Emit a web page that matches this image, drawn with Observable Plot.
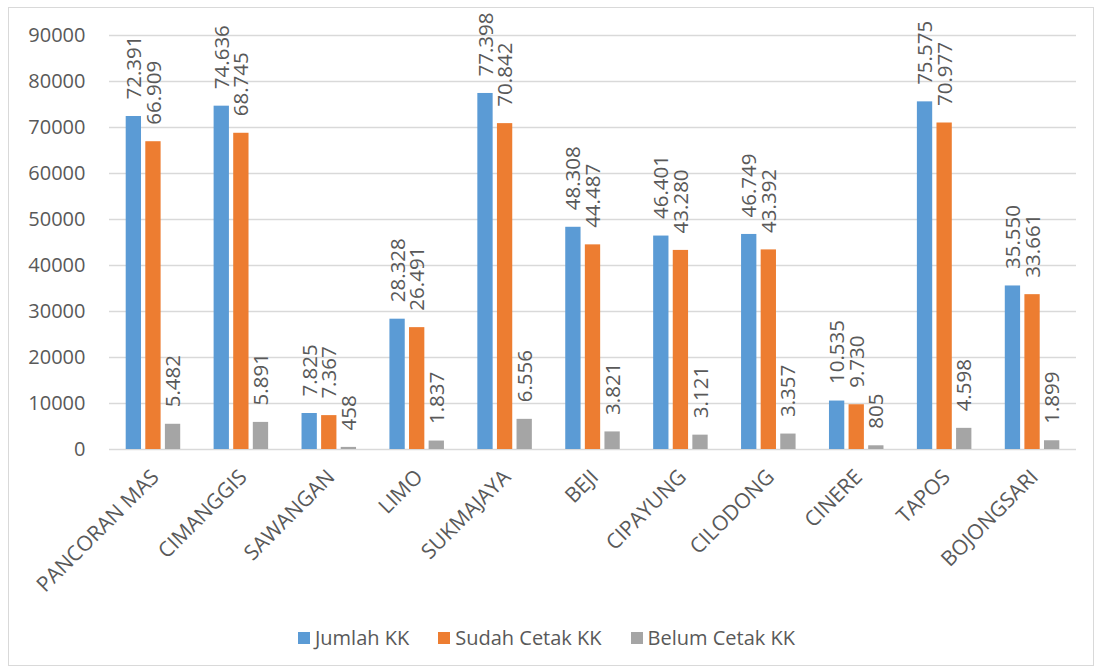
<!DOCTYPE html>
<html>
<head>
<meta charset="utf-8">
<script src="https://cdn.jsdelivr.net/npm/d3@7"></script>
<script src="https://cdn.jsdelivr.net/npm/@observablehq/plot@0.6"></script>
<style>
  html, body { margin: 0; padding: 0; background: #fff; }
  #wrap { position: relative; width: 1100px; height: 670px; font-family: "Open Sans", sans-serif; }
  #border { position: absolute; left: 8px; top: 7px; width: 1084px; height: 657px; border: 1px solid #d9d9d9; pointer-events: none; }
  #chart { position: absolute; left: 0; top: 0; }
  #legend { position: absolute; left: 4px; top: 624px; width: 1085px; display: flex; justify-content: center; gap: 29px; font-size: 20px; color: #595959; }
  .item { display: flex; align-items: center; gap: 5px; }
  .sw { width: 12px; height: 12px; display: inline-block; }
</style>
</head>
<body>
<div id="wrap">
  <div id="chart"></div>
  <div id="legend"></div>
  <div id="border"></div>
</div>
<script>
const districts = ["PANCORAN MAS","CIMANGGIS","SAWANGAN","LIMO","SUKMAJAYA","BEJI","CIPAYUNG","CILODONG","CINERE","TAPOS","BOJONGSARI"];
const jumlahKK = [72391, 74636, 7825, 28328, 77398, 48308, 46401, 46749, 10535, 75575, 35550];
const sudahCetak = [66909, 68745, 7367, 26491, 70842, 44487, 43280, 43392, 9730, 70977, 33661];
const belumCetak = [5482, 5891, 458, 1837, 6556, 3821, 3121, 3357, 805, 4598, 1899];
const seriesNames = ["Jumlah KK", "Sudah Cetak KK", "Belum Cetak KK"];
const seriesColors = ["#5B9BD5", "#ED7D31", "#A5A5A5"];
const yTicks = [0, 10000, 20000, 30000, 40000, 50000, 60000, 70000, 80000, 90000];

const data = districts.map((d, i) => ({district: d, v0: jumlahKK[i], v1: sudahCetak[i], v2: belumCetak[i]}));
const fmt = v => d3.format(",")(v).replace(/,/g, ".");
const offsets = [-19.6, 0, 19.6];
const keys = ["v0", "v1", "v2"];

const marks = [Plot.gridY(yTicks, {stroke: "#d9d9d9", strokeOpacity: 1, strokeWidth: 1.5})];
keys.forEach((k, i) => {
  marks.push(Plot.barY(data, {x: "district", y: k, fill: seriesColors[i], dx: offsets[i], insetLeft: 36.3, insetRight: 36.3}));
});
keys.forEach((k, i) => {
  marks.push(Plot.text(data, {x: "district", y: k, text: d => fmt(d[k]), rotate: -90, textAnchor: "start", lineAnchor: "middle", dx: offsets[i] + 0.5, dy: -17, fontSize: 20.5, fill: "#595959"}));
});
marks.push(Plot.axisY({ticks: yTicks, tickSize: 0, tickPadding: 24, fontSize: 20, tickFormat: d => String(d)}));
marks.push(Plot.axisX({tickRotate: -45, tickSize: 0, tickPadding: 24, dx: 2, fontSize: 21, label: null}));

const plot = Plot.plot({
  width: 1100,
  height: 610,
  marginTop: 35,
  marginBottom: 161,
  marginLeft: 109,
  marginRight: 24,
  style: {color: "#595959", fontFamily: "'Open Sans', sans-serif", fontSize: "20px", background: "transparent"},
  x: {domain: districts, padding: 0, round: false, label: null},
  y: {domain: [0, 90000], label: null},
  marks
});
document.getElementById("chart").appendChild(plot);

const legend = document.getElementById("legend");
seriesNames.forEach((n, i) => {
  const it = document.createElement("div");
  it.className = "item";
  const sw = document.createElement("span");
  sw.className = "sw";
  sw.style.background = seriesColors[i];
  const t = document.createElement("span");
  t.textContent = n;
  it.appendChild(sw); it.appendChild(t);
  legend.appendChild(it);
});
</script>
</body>
</html>
